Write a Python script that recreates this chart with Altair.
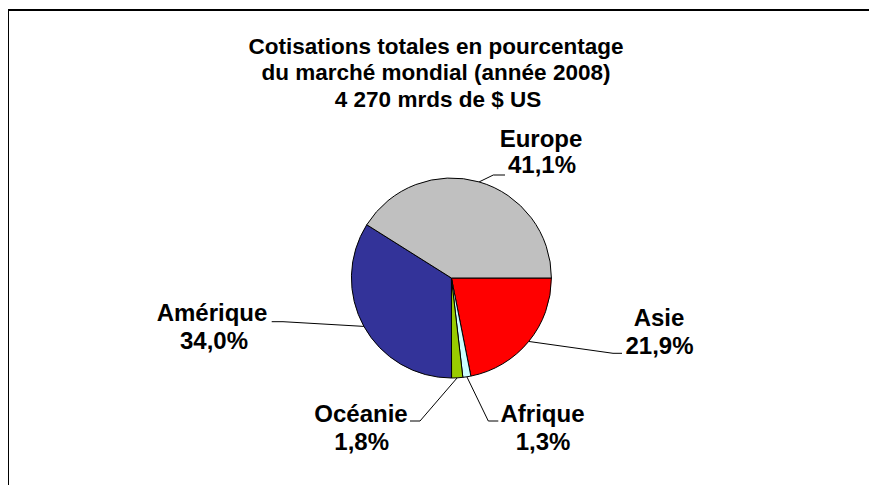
import altair as alt
import pandas as pd
import numpy as np

# ---- data ----
regions = ["Asie", "Afrique", "Océanie", "Amérique", "Europe"]
shares = [21.9, 1.3, 1.8, 34.0, 41.1]
share_labels = ["21,9%", "1,3%", "1,8%", "34,0%", "41,1%"]
colors = ["#FF0000", "#CCFFFF", "#99CC00", "#333399", "#C0C0C0"]
title_lines = ["Cotisations totales en pourcentage",
               "du marché mondial (année 2008)",
               "4 270 mrds de $ US"]

# ---- layout (chart pixel coordinates) ----
W, H = 861, 477
CX, CY, R = 443.4, 270.0, 100.0
START = np.pi / 2
FONT = "Liberation Sans"

# label layout: elbow point, end of leader, name centre, pct centre
layout = {
    "Europe":   dict(elbow=(485.3, 167.0), end=(497.0, 167.0), name=(533.0, 132.0), pct=(534.0, 158.0)),
    "Asie":     dict(elbow=(605.0, 345.3), end=(614.0, 345.3), name=(651.0, 311.0), pct=(651.5, 339.0)),
    "Amérique": dict(elbow=(275.0, 313.7), end=(263.7, 313.7), name=(204.0, 306.0), pct=(206.0, 334.0)),
    "Océanie":  dict(elbow=(412.0, 413.0), end=(402.0, 413.0), name=(353.0, 407.0), pct=(353.7, 435.0)),
    "Afrique":  dict(elbow=(480.3, 413.0), end=(490.3, 413.0), name=(534.5, 407.0), pct=(535.0, 435.0)),
}

df = pd.DataFrame({"region": regions, "share": shares, "pct": share_labels,
                   "ordre": list(range(len(regions)))})
total = df["share"].sum()
cum = df["share"].cumsum()
df["mid"] = START + 2 * np.pi * (cum - df["share"] / 2) / total
df["ex"] = CX + R * np.sin(df["mid"])
df["ey"] = CY - R * np.cos(df["mid"])

# leader lines
rows = []
for _, r in df.iterrows():
    L = layout[r["region"]]
    rows.append(dict(region=r["region"], k=0, x=r["ex"], y=r["ey"]))
    rows.append(dict(region=r["region"], k=1, x=L["elbow"][0], y=L["elbow"][1]))
    rows.append(dict(region=r["region"], k=2, x=L["end"][0], y=L["end"][1]))
lines_df = pd.DataFrame(rows)

txt_rows = []
for _, r in df.iterrows():
    L = layout[r["region"]]
    txt_rows.append(dict(t=r["region"], x=L["name"][0], y=L["name"][1]))
    txt_rows.append(dict(t=r["pct"], x=L["pct"][0], y=L["pct"][1]))
txt_df = pd.DataFrame(txt_rows)

title_df = pd.DataFrame({"t": title_lines, "x": [428, 428, 430], "y": [38.7, 65.0, 91.5]})

pie = alt.Chart(df).mark_arc(outerRadius=R, stroke="black", strokeWidth=1).encode(
    theta=alt.Theta("share:Q", stack=True,
                    scale=alt.Scale(range=[START, START + 2 * np.pi])),
    color=alt.Color("region:N", scale=alt.Scale(domain=regions, range=colors), legend=None),
    order=alt.Order("ordre:Q"),
    x=alt.value(CX), y=alt.value(CY),
)

leaders = alt.Chart(lines_df).mark_line(color="black", strokeWidth=1).encode(
    x=alt.X("x:Q", scale=None, axis=None),
    y=alt.Y("y:Q", scale=None, axis=None),
    detail="region:N",
    order="k:Q",
)

labels = alt.Chart(txt_df).mark_text(font=FONT, fontSize=24, fontWeight="bold",
                                     color="black", baseline="middle", align="center").encode(
    x=alt.X("x:Q", scale=None, axis=None),
    y=alt.Y("y:Q", scale=None, axis=None),
    text="t:N",
)

title = alt.Chart(title_df).mark_text(font=FONT, fontSize=22.5, fontWeight="bold",
                                      color="black", baseline="middle", align="center").encode(
    x=alt.X("x:Q", scale=None, axis=None),
    y=alt.Y("y:Q", scale=None, axis=None),
    text="t:N",
)

frame_top = alt.Chart(pd.DataFrame({"a": [0]})).mark_rule(color="black", strokeWidth=2).encode(
    x=alt.value(0), x2=alt.value(W), y=alt.value(2))
frame_left = alt.Chart(pd.DataFrame({"a": [0]})).mark_rule(color="black", strokeWidth=2).encode(
    x=alt.value(0), y=alt.value(1), y2=alt.value(H))

chart = alt.layer(frame_top, frame_left, pie, leaders, labels, title).properties(
    width=W, height=H, padding=0,
    autosize=alt.AutoSizeParams(type="none"),
    background="white",
).configure_view(stroke=None)

chart.save("out.html", embed_options={"renderer": "svg", "actions": False})
